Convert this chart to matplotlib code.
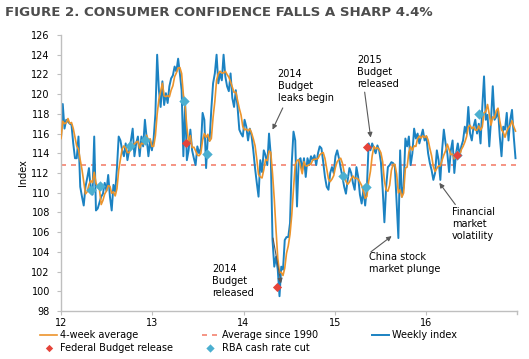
import numpy as np
import pandas as pd
import matplotlib
matplotlib.use('Agg')
import matplotlib.pyplot as plt
import matplotlib.dates as mdates

# === 數據 ===
START_DATE = "2012-01-01"

weekly_index = [
    115.5, 119.0, 116.5, 117.4, 117.2, 117.0, 116.9, 115.0, 113.5, 113.5,
    115.7, 110.6, 109.6, 108.7, 110.6, 111.5, 112.5, 110.3, 109.8, 115.7,
    108.2, 108.4, 109.0, 109.6, 109.9, 111.0, 110.2, 111.8, 109.6, 108.2,
    110.8, 110.1, 112.5, 115.7, 115.3, 114.3, 113.7, 115.0, 113.3, 114.3,
    115.3, 116.5, 113.7, 115.0, 115.7, 113.7, 115.7, 114.7, 117.4, 115.5,
    113.7, 115.3, 114.3, 115.5, 118.0, 124.0, 120.4, 118.7, 121.3, 118.9,
    120.1, 119.1, 120.8, 121.6, 121.9, 122.8, 122.3, 123.6, 122.1, 120.4,
    113.7, 119.2, 113.3, 114.3, 116.4, 114.3, 113.5, 112.8, 114.7, 114.0,
    114.5, 118.1, 117.4, 112.5, 115.7, 115.3, 118.5, 121.1, 122.1, 124.0,
    121.1, 122.1, 121.4, 124.0, 121.8, 120.8, 120.3, 122.1, 119.6, 118.7,
    120.4, 118.7, 116.4, 116.0, 115.7, 117.4, 116.7, 115.3, 116.5, 115.8,
    114.3, 112.5, 111.0, 109.6, 113.3, 112.1, 114.3, 113.8, 112.8, 116.0,
    113.8, 105.2, 102.5, 103.5, 102.2, 99.5, 102.5, 102.2, 105.2, 105.5,
    105.5, 106.9, 113.0, 116.2, 115.3, 108.6, 113.3, 113.5, 112.3, 113.5,
    111.6, 113.5, 112.8, 113.7, 113.3, 113.8, 112.8, 114.0, 114.7, 114.5,
    113.1, 111.6, 110.6, 110.3, 112.0, 112.6, 112.0, 113.7, 114.3, 113.5,
    112.5, 111.6, 110.6, 109.9, 111.3, 112.5, 112.0, 111.0, 110.3, 112.6,
    111.6, 109.8, 108.9, 110.3, 108.7, 110.6, 115.0, 114.3, 115.0, 114.5,
    114.0, 114.8, 114.3, 113.1, 110.4, 107.0, 110.6, 112.6, 112.8, 113.1,
    113.0, 112.6, 108.9, 105.4, 114.3, 109.6, 110.6, 115.5, 114.7, 115.7,
    112.8, 114.0, 116.5, 115.5, 116.0, 115.0, 115.7, 116.4, 115.3, 115.7,
    114.0, 113.0, 112.3, 111.3, 112.0, 114.3, 113.3, 111.3, 114.3, 116.4,
    115.0, 114.0, 112.1, 114.3, 115.3, 112.0, 114.0, 115.0, 113.8, 114.7,
    115.3, 116.7, 116.0, 118.7, 116.0, 115.3, 116.7, 117.4, 116.0, 117.0,
    115.0, 118.7, 121.8, 117.4, 117.9, 114.7, 117.4, 120.8, 117.4, 117.7,
    118.4, 115.7, 113.7, 116.7, 116.4, 118.1, 115.3, 117.4, 118.4, 115.7,
    113.5,
]

avg_since_1990 = 112.8

budget_dates = ["2013-05-14", "2014-05-13", "2015-05-12", "2016-05-03"]
budget_values = [115.0, 100.4, 114.6, 113.8]

rba_dates = ["2012-05-01", "2012-06-05", "2012-10-02", "2012-12-04", "2013-05-07",
             "2013-08-06", "2015-02-03", "2015-05-05", "2016-05-03", "2016-08-02"]
rba_values = [110.3, 110.7, 114.7, 115.3, 119.3, 113.9, 111.7, 110.6, 113.8, 118.0]

year_ticks = ["2012-01-01", "2013-01-01", "2014-01-01", "2015-01-01", "2016-01-01"]

# === 顏色 ===
C_WEEKLY = "#1b82c2"
C_AVG4 = "#ec942c"
C_AVG90 = "#f4836f"
C_BUDGET = "#e5443a"
C_RBA = "#4bafd0"
C_AXIS = "#bfbfbf"
C_ARROW = "#595959"

plt.rcParams['font.family'] = ['DejaVu Sans']

dates = pd.date_range(START_DATE, periods=len(weekly_index), freq="7D")
weekly = pd.Series(weekly_index, index=dates)
avg4 = weekly.rolling(4, min_periods=1).mean()

fig = plt.figure(figsize=(5.29, 3.59), dpi=100)
ax = fig.add_axes([61 / 529, 1 - 311 / 359, 456 / 529, 276 / 359])

ax.axhline(avg_since_1990, color=C_AVG90, lw=1.2, ls=(0, (3, 3)), zorder=1,
           label="Average since 1990")
ax.plot(dates, weekly.values, color=C_WEEKLY, lw=1.4, zorder=2, label="Weekly index")
ax.plot(dates, avg4.values, color=C_AVG4, lw=1.2, zorder=3, label="4-week average")
ax.scatter(pd.to_datetime(rba_dates), rba_values, marker="D", s=28, color=C_RBA,
           zorder=4, label="RBA cash rate cut", linewidths=0)
ax.scatter(pd.to_datetime(budget_dates), budget_values, marker="D", s=22, color=C_BUDGET,
           zorder=5, label="Federal Budget release", linewidths=0)

ax.set_ylim(98, 126)
ax.set_yticks(np.arange(98, 127, 2))
ax.set_xlim(pd.Timestamp("2012-01-01"), pd.Timestamp("2016-12-31"))
ax.set_xticks(pd.to_datetime(year_ticks))
ax.xaxis.set_major_formatter(mdates.DateFormatter("%y"))
ax.tick_params(axis="both", labelsize=7, length=3, color=C_AXIS)
ax.tick_params(axis="y", pad=5)
ax.tick_params(axis="x", pad=2)

for side in ["top", "right"]:
    ax.spines[side].set_visible(False)
for side in ["left", "bottom"]:
    ax.spines[side].set_color(C_AXIS)
    ax.spines[side].set_linewidth(1.0)

# 右端刻度
ax.plot([1, 1], [0, -0.011], transform=ax.transAxes, color=C_AXIS, lw=1.0, clip_on=False)

ax.set_ylabel("Index", fontsize=7, labelpad=2)

# === 註解 ===
arrow_kw = dict(arrowstyle="-|>", color=C_ARROW, lw=0.8, mutation_scale=7, shrinkA=0, shrinkB=0)
txt_kw = dict(fontsize=7, ha="left", va="top", linespacing=1.25)


def note(text, xy_text, xy_tail, xy_head):
    ax.text(pd.Timestamp(xy_text[0]), xy_text[1], text, **txt_kw)
    ax.annotate("", xy=(pd.Timestamp(xy_head[0]), xy_head[1]),
                xytext=(pd.Timestamp(xy_tail[0]), xy_tail[1]), arrowprops=arrow_kw)


note("2014\nBudget\nleaks begin", ("2014-05-17", 122.6), ("2014-06-07", 118.6), ("2014-04-27", 116.4))
note("2015\nBudget\nreleased", ("2015-03-31", 124.0), ("2015-05-01", 120.2), ("2015-05-25", 115.6))
note("China stock\nmarket plunge", ("2015-05-17", 104.0), ("2015-05-26", 104.0), ("2015-08-17", 105.6))
note("Financial\nmarket\nvolatility", ("2016-04-15", 108.6), ("2016-04-28", 108.8), ("2016-02-24", 111.0))
note("2014\nBudget\nreleased", ("2013-08-28", 102.8), ("2014-04-29", 105.4), ("2014-05-31", 100.8))

# === 標題 ===
fig.text(5 / 529, 1 - 12 / 359, "FIGURE 2. CONSUMER CONFIDENCE FALLS A SHARP 4.4%",
         fontsize=9.6, fontweight="bold", color="#4d4d4d", ha="left", va="center")

# === 圖例 ===
h, l = ax.get_legend_handles_labels()
hm = dict(zip(l, h))
leg_kw = dict(loc="upper left", frameon=False, fontsize=7, handlelength=1.8,
              handletextpad=0.3, labelspacing=0.3, borderpad=0.2, borderaxespad=0,
              scatterpoints=1, markerscale=0.8)
order1 = ["4-week average", "Federal Budget release", "Average since 1990", "RBA cash rate cut"]
fig.legend([hm[k] for k in order1], order1, ncol=2, columnspacing=2.9,
           bbox_to_anchor=(38 / 529, 1 - 328 / 359), **leg_kw)
fig.legend([hm["Weekly index"]], ["Weekly index"],
           bbox_to_anchor=(370 / 529, 1 - 328 / 359), **leg_kw)

fig.savefig("out.png", dpi=100)
